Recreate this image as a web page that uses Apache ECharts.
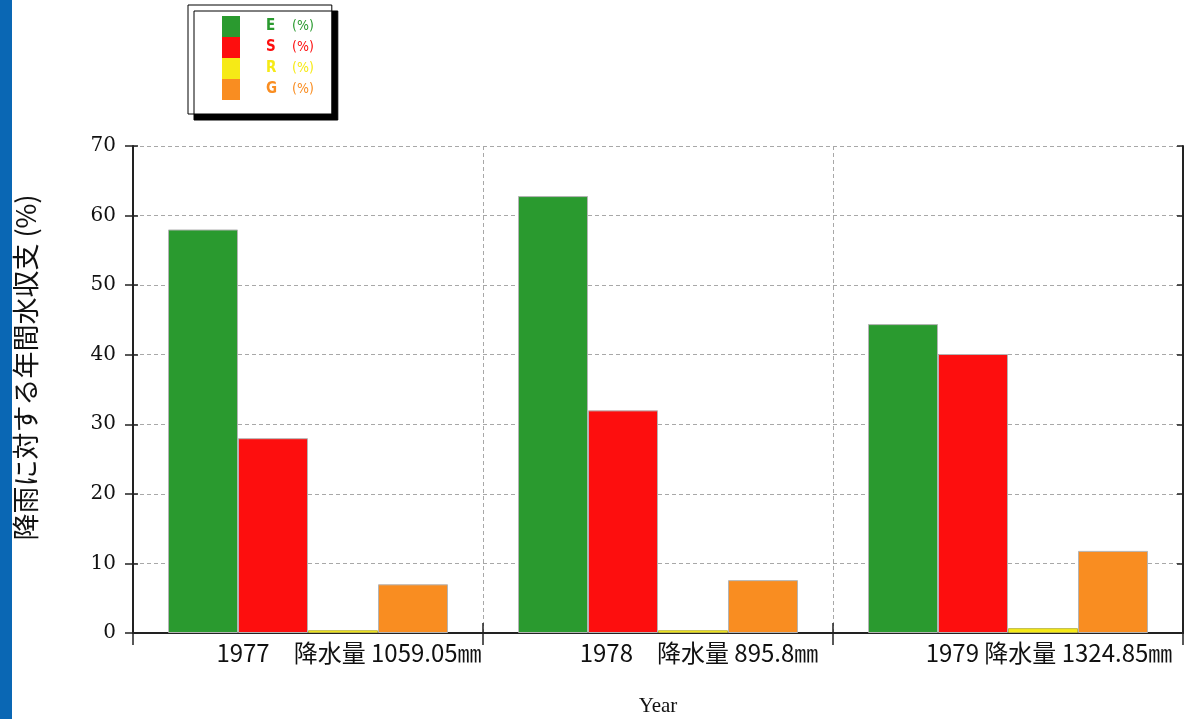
<!DOCTYPE html>
<html>
<head>
<meta charset="utf-8">
<title>降雨に対する年間水収支</title>
<script src="https://cdn.jsdelivr.net/npm/echarts@6/dist/echarts.min.js"></script>
<style>
  html, body { margin: 0; padding: 0; background: #fff; }
  #chart { width: 1187px; height: 719px; }
</style>
</head>
<body>
<div id="chart"></div>
<script>
// Annual water balance as a share of rainfall, per year
const years = ['1977', '1978', '1979'];
const yearLabels = ['1977　降水量 1059.05㎜', '1978　降水量 895.8㎜', '1979 降水量 1324.85㎜'];
const seriesNames = ['E', 'S', 'R', 'G'];
const eValues = [58.0, 62.8, 44.4];
const sValues = [28.0, 32.0, 40.1];
const rValues = [0.4, 0.4, 0.7];
const gValues = [7.0, 7.6, 11.8];
const yTicks = [0, 10, 20, 30, 40, 50, 60, 70];

const colors = ['#2a9a2f', '#fd0e0e', '#f6ea16', '#f98d21'];
const borderColors = ['#b4b4b4', '#b4b4b4', '#bdb842', '#b4b4b4'];
const seriesValues = [eValues, sValues, rValues, gValues];

const chart = echarts.init(document.getElementById('chart'));

const axisDark = '#222';
const gridDash = { color: '#a8a8a8', width: 1, type: [4, 3] };
const yMin = yTicks[0], yMax = yTicks[yTicks.length - 1], yStep = yTicks[1] - yTicks[0];

const option = {
  backgroundColor: '#fff',
  animation: false,
  graphic: [
    { type: 'rect', left: 0, top: 0, shape: { width: 12, height: 719 }, style: { fill: '#0a67b4' } }
  ],
  legend: {
    left: 188, top: 5,
    orient: 'vertical',
    selectedMode: false,
    icon: 'rect',
    itemWidth: 18, itemHeight: 21, itemGap: 0,
    itemStyle: { borderWidth: 0 },
    padding: [11, 18, 14, 34],
    backgroundColor: '#fff',
    borderColor: '#000', borderWidth: 1, borderRadius: 0,
    shadowColor: '#000', shadowBlur: 0, shadowOffsetX: 6, shadowOffsetY: 6,
    data: seriesNames.map((n, i) => ({ name: n, textStyle: { color: colors[i] } })),
    formatter: name => '{n|' + name + '}{p|(%)}',
    textStyle: {
      fontFamily: '"DejaVu Sans Condensed", sans-serif',
      fontSize: 15,
      rich: {
        n: { fontWeight: 'bold', fontSize: 15, width: 26, padding: [0, 0, 0, 21],
             fontFamily: '"DejaVu Sans Condensed", sans-serif' },
        p: { fontSize: 14, fontFamily: '"DejaVu Sans Condensed", sans-serif' }
      }
    }
  },
  grid: { left: 133, right: 4, top: 146, bottom: 86, containLabel: false, outerBoundsMode: 'none' },
  xAxis: [
    {
      type: 'category', data: years, position: 'bottom',
      boundaryGap: true,
      axisLine: { lineStyle: { color: axisDark, width: 2 } },
      axisTick: { show: true, inside: false, length: 12, alignWithLabel: false, lineStyle: { color: axisDark, width: 1.5 } },
      axisLabel: {
        formatter: (v, i) => yearLabels[i],
        fontFamily: '"Noto Sans CJK JP", sans-serif',
        fontSize: 24, color: '#111', margin: 8,
        padding: [0, 0, 0, 82]
      },
      splitLine: { show: true, lineStyle: gridDash },
      name: 'Year', nameLocation: 'middle', nameGap: 63,
      nameTextStyle: { fontFamily: '"Liberation Serif", "DejaVu Serif", serif', fontSize: 21, color: '#111' }
    },
    {
      type: 'category', data: years, position: 'top',
      boundaryGap: true,
      axisLine: { lineStyle: { color: axisDark, width: 2 } },
      axisTick: { show: true, inside: false, length: 10, lineStyle: { color: axisDark, width: 1.5 } },
      axisLabel: { show: false },
      splitLine: { show: false }
    }
  ],
  yAxis: [
    {
      type: 'value', min: yMin, max: yMax, interval: yStep, position: 'left',
      axisLine: { show: true, lineStyle: { color: axisDark, width: 2 } },
      axisTick: { show: true, inside: false, length: 8, lineStyle: { color: axisDark, width: 1.5 } },
      axisLabel: {
        fontFamily: '"DejaVu Serif", serif', fontSize: 20, color: '#111', margin: 17
      },
      splitLine: { show: true, lineStyle: gridDash },
      name: '降雨に対する年間水収支 (%)', nameLocation: 'middle', nameGap: 94, nameRotate: 90,
      nameTextStyle: { fontFamily: '"Noto Sans CJK JP", sans-serif', fontSize: 27, color: '#111',
                       padding: [0, 0, 0, 44] }
    },
    {
      type: 'value', min: yMin, max: yMax, interval: yStep, position: 'left',
      axisLine: { show: false },
      axisTick: { show: true, inside: true, length: 5, lineStyle: { color: axisDark, width: 1.5 } },
      axisLabel: { show: false },
      splitLine: { show: false }
    },
    {
      type: 'value', min: yMin, max: yMax, interval: yStep, position: 'right',
      axisLine: { show: true, lineStyle: { color: axisDark, width: 2 } },
      axisTick: { show: true, inside: true, length: 6, lineStyle: { color: axisDark, width: 1.5 } },
      axisLabel: { show: false },
      splitLine: { show: false }
    }
  ],
  series: seriesNames.map((n, i) => ({
    name: n,
    type: 'bar',
    xAxisIndex: 0, yAxisIndex: 0,
    data: seriesValues[i],
    barGap: '0%',
    barCategoryGap: '20%',
    itemStyle: { color: colors[i], borderColor: borderColors[i], borderWidth: 1 }
  }))
};

chart.setOption(option);
</script>
</body>
</html>
